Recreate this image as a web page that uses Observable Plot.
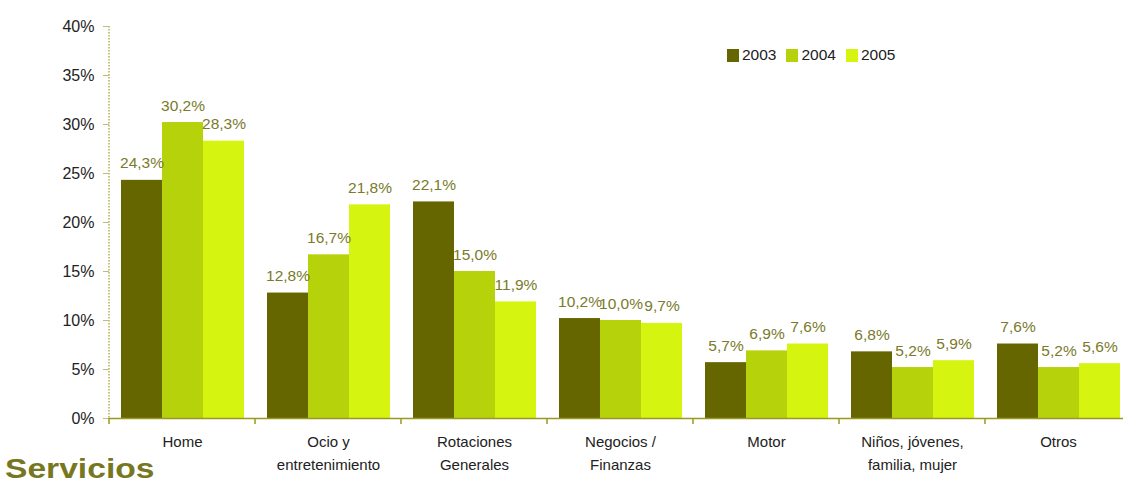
<!DOCTYPE html>
<html>
<head>
<meta charset="utf-8">
<script src="https://cdn.jsdelivr.net/npm/d3@7"></script>
<script src="https://cdn.jsdelivr.net/npm/@observablehq/plot@0.6"></script>
<style>
  html, body { margin: 0; padding: 0; background: #fff; overflow: hidden; }
  body { font-family: "Liberation Sans", Arial, sans-serif; }
  #wrap { position: relative; width: 1123px; height: 484px; overflow: hidden; }
  #chart svg { max-width: none !important; display: block; }
  #legend { position: absolute; left: 727px; top: 46px; display: flex; font-size: 15.5px; color: #222; }
  #legend .item { display: flex; align-items: center; margin-right: 10px; }
  #legend .sw { width: 12px; height: 13px; margin-right: 3px; }
  #title { position: absolute; left: 5px; top: 455px; font-size: 28px; font-weight: bold; color: #777722; line-height: 1; transform: scaleX(1.2); transform-origin: left top; }
</style>
</head>
<body>
<div id="wrap">
  <div id="chart"></div>
  <div id="legend"></div>
  <div id="title">Servicios</div>
</div>
<script>
const categories = ["Home", "Ocio y\nentretenimiento", "Rotaciones\nGenerales", "Negocios /\nFinanzas", "Motor", "Niños, jóvenes,\nfamilia, mujer", "Otros"];
const years = ["2003", "2004", "2005"];
const values2003 = [24.3, 12.8, 22.1, 10.2, 5.7, 6.8, 7.6];
const values2004 = [30.2, 16.7, 15.0, 10.0, 6.9, 5.2, 5.2];
const values2005 = [28.3, 21.8, 11.9, 9.7, 7.6, 5.9, 5.6];
const yTicks = [0, 5, 10, 15, 20, 25, 30, 35, 40];
const colors = ["#666600", "#b5d20a", "#d5f510"];

const series = [values2003, values2004, values2005];
const data = [];
categories.forEach((c, i) => years.forEach((y, j) => data.push({cat: c, year: y, value: series[j][i]})));

const fmt = v => v.toFixed(1).replace(".", ",") + "%";

const plot = Plot.plot({
  width: 1131,
  height: 484,
  marginTop: 26,
  marginBottom: 66,
  marginLeft: 108,
  marginRight: 0,
  style: {fontFamily: "'Liberation Sans', Arial, sans-serif", background: "transparent", maxWidth: "none"},
  fx: {domain: categories, padding: 0, label: null},
  x: {domain: years, paddingInner: 0, paddingOuter: 0.28, axis: null},
  y: {domain: [0, 40], label: null},
  color: {domain: years, range: colors},
  marks: [
    Plot.axisY({ticks: yTicks, tickFormat: d => d + "%", tickSize: 6, tickPadding: 9, fontSize: 16, stroke: "#bdbd78", fill: "#222", label: null}),
    Plot.axisFx({anchor: "bottom", tickSize: 0, tickPadding: 12, fontSize: 15, lineHeight: 1.55, fill: "#222", label: null}),
    Plot.barY(data, {fx: "cat", x: "year", y: "value", fill: "year"}),
    Plot.text(data, {fx: "cat", x: "year", y: "value", text: d => fmt(d.value), dy: -12, lineAnchor: "bottom", fill: "#7a7a2a", fontSize: 15.5}),
    Plot.ruleY([0], {stroke: "#999922", strokeWidth: 1.5})
  ]
});

document.getElementById("chart").appendChild(plot);

// decorations: dotted y-axis line and category boundary ticks, positioned from the plot's scales
const svg = d3.select(plot);
const ys = plot.scale("y");
const fxs = plot.scale("fx");
const y0 = ys.apply(0), yTop = ys.apply(40);
const left = fxs.apply(categories[0]);
svg.append("line")
  .attr("x1", left).attr("x2", left).attr("y1", yTop).attr("y2", y0)
  .attr("stroke", "#c4c47c").attr("stroke-width", 2).attr("stroke-dasharray", "1.5,1.5");
const bounds = categories.map(c => fxs.apply(c));
svg.append("g").selectAll("line").data(bounds).join("line")
  .attr("x1", d => d).attr("x2", d => d).attr("y1", y0).attr("y2", y0 + 6)
  .attr("stroke", "#999922").attr("stroke-width", 1.5);

// legend
const legend = d3.select("#legend");
years.forEach((y, i) => {
  const it = legend.append("div").attr("class", "item");
  it.append("div").attr("class", "sw").style("background", colors[i]);
  it.append("span").text(y);
});
</script>
</body>
</html>
